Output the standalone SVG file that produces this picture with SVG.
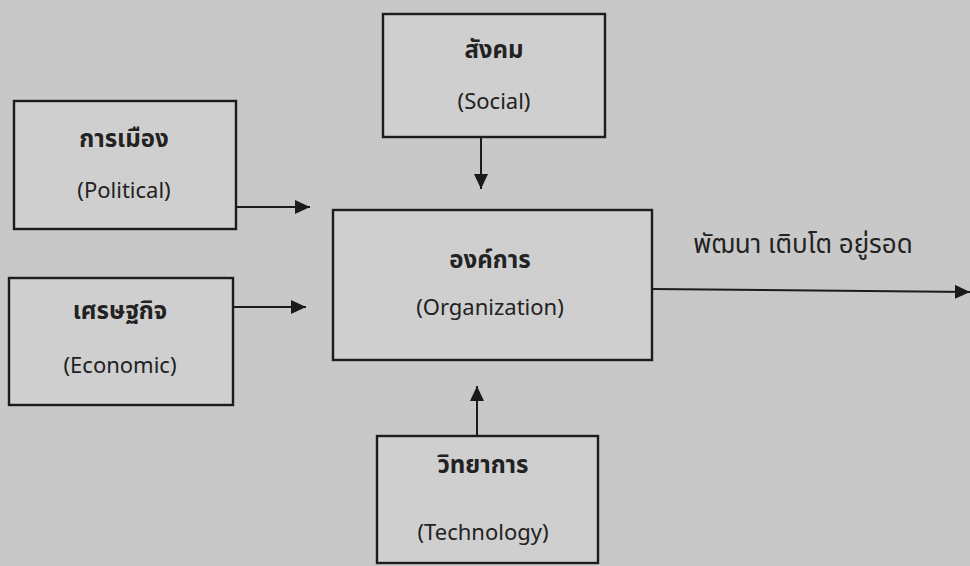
<svg xmlns="http://www.w3.org/2000/svg" width="970" height="566" viewBox="0 0 970 566">
<defs>
<marker id="ah" markerWidth="15" markerHeight="14" refX="15" refY="7" orient="auto" markerUnits="userSpaceOnUse" viewBox="0 0 15 14">
<path d="M0,0 L15,7 L0,14 z" fill="#1a1a1a"/>
</marker>
<style>
.box{fill:#cfcfcf;stroke:#1c1c1c;stroke-width:2.4}
.th{font-family:"Noto Sans Thai","Noto Sans","DejaVu Sans",sans-serif;font-size:24px;font-weight:bold;fill:#222;text-anchor:middle;dominant-baseline:central}
.en{font-family:"Noto Sans","Open Sans","DejaVu Sans",sans-serif;font-size:22px;fill:#222;text-anchor:middle;dominant-baseline:central}
.lbl{font-family:"Noto Sans Thai","Noto Sans","DejaVu Sans",sans-serif;font-size:26px;fill:#222;text-anchor:middle;dominant-baseline:central}
.ln{stroke:#1c1c1c;stroke-width:2;fill:none;marker-end:url(#ah)}
</style>
</defs>
<rect x="0" y="0" width="970" height="566" fill="#c8c8c8"/>
<g id="social">
<rect class="box" x="383" y="14" width="222" height="123"/>
<text class="th" x="494" y="51">สังคม</text>
<text class="en" x="494" y="100">(Social)</text>
</g>
<g id="political">
<rect class="box" x="14" y="101" width="222" height="128"/>
<text class="th" x="124" y="140">การเมือง</text>
<text class="en" x="124" y="189">(Political)</text>
</g>
<g id="economic">
<rect class="box" x="9" y="278" width="224" height="127"/>
<text class="th" x="120" y="312">เศรษฐกิจ</text>
<text class="en" x="120" y="364">(Economic)</text>
</g>
<g id="organization">
<rect class="box" x="333" y="210" width="319" height="150"/>
<text class="th" x="490" y="261">องค์การ</text>
<text class="en" x="490" y="306">(Organization)</text>
</g>
<g id="technology">
<rect class="box" x="377" y="436" width="221" height="127"/>
<text class="th" x="483" y="466">วิทยาการ</text>
<text class="en" x="483" y="531">(Technology)</text>
</g>
<g id="connectors">
<line class="ln" x1="236" y1="207" x2="310" y2="207"/>
<line class="ln" x1="233" y1="307" x2="306" y2="307"/>
<line class="ln" x1="481" y1="137" x2="481" y2="189"/>
<line class="ln" x1="477" y1="436" x2="477" y2="386"/>
<line class="ln" x1="652" y1="289" x2="970" y2="292"/>
<text class="lbl" x="803" y="245">พัฒนา เติบโต อยู่รอด</text>
</g>
</svg>
